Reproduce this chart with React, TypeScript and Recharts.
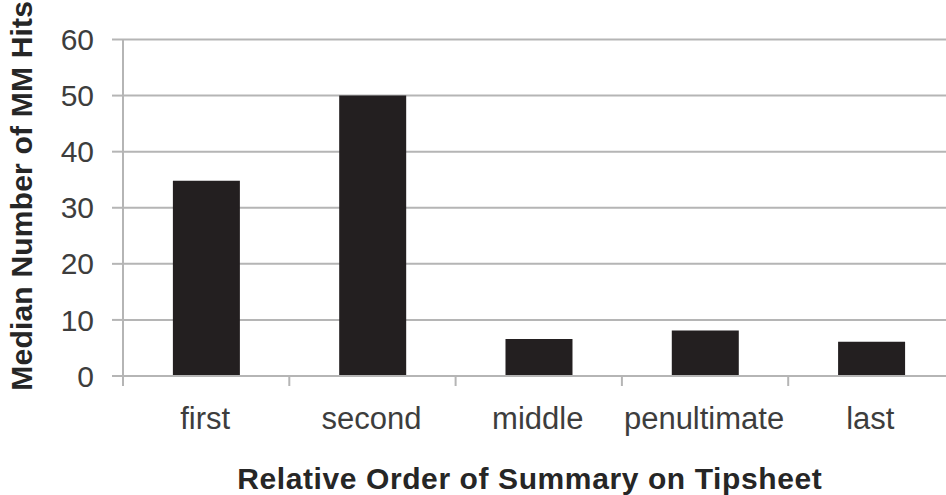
import React from 'react';
import { BarChart, Bar, XAxis, YAxis, CartesianGrid } from 'recharts';

const categories = ['first', 'second', 'middle', 'penultimate', 'last'];
const medianHits = [34.8, 50, 6.6, 8.1, 6.1];
const yTicks = [0, 10, 20, 30, 40, 50, 60];
const xTitle = 'Relative Order of Summary on Tipsheet';
const yTitle = 'Median Number of MM Hits';

const data = categories.map((c, i) => ({ category: c, hits: medianHits[i] }));

const FONT = '"Liberation Sans", Arial, Helvetica, sans-serif';
const AXIS_GRAY = '#b5b5b5';

function CategoryTick(props: any) {
  const { x, y, payload, index } = props;
  const half = payload && typeof payload.offset === 'number' ? payload.offset : 0;
  return (
    <g>
      <line x1={x - half} x2={x - half} y1={y} y2={y + 10} stroke={AXIS_GRAY} strokeWidth={2} />
      {index === categories.length - 1 ? (
        <line x1={x + half} x2={x + half} y1={y} y2={y + 10} stroke={AXIS_GRAY} strokeWidth={2} />
      ) : null}
      <text x={x - 1} y={y + 53} textAnchor="middle" fontFamily={FONT} fontSize={31} fill="#3d3d3d">
        {payload.value}
      </text>
    </g>
  );
}

function YTitle(props: any) {
  const vb = props.viewBox || { x: 0, y: 0, width: 0, height: 0 };
  const cx = vb.x + 32;
  const cy = vb.y + vb.height / 2 - 12;
  return (
    <text
      x={cx}
      y={cy}
      transform={`rotate(-90, ${cx}, ${cy})`}
      textAnchor="middle"
      fontFamily={FONT}
      fontWeight="bold"
      fontSize={30}
      letterSpacing={0.2}
      fill="#262626"
    >
      {yTitle}
    </text>
  );
}

function XTitle(props: any) {
  const vb = props.viewBox || { x: 0, y: 0, width: 0, height: 0 };
  return (
    <text
      x={vb.x + vb.width / 2 - 9}
      y={vb.y + 113}
      textAnchor="middle"
      fontFamily={FONT}
      fontWeight="bold"
      fontSize={30}
      letterSpacing={0.6}
      fill="#262626"
    >
      {xTitle}
    </text>
  );
}

export default function App() {
  return (
    <div
      style={{
        position: 'absolute',
        left: 0,
        top: 0,
        width: 946,
        height: 495,
        overflow: 'hidden',
        background: '#ffffff',
      }}
    >
      <BarChart
        width={980}
        height={495}
        data={data}
        margin={{ top: 39.5, right: 25.5, bottom: 0, left: 0 }}
        barCategoryGap="30%"
      >
        <CartesianGrid vertical={false} stroke={AXIS_GRAY} strokeWidth={2} />
        <XAxis
          dataKey="category"
          height={119}
          interval={0}
          tickSize={0}
          tickMargin={0}
          tickLine={false}
          axisLine={{ stroke: AXIS_GRAY, strokeWidth: 2 }}
          tick={<CategoryTick />}
          label={{ content: <XTitle /> }}
        />
        <YAxis
          width={123}
          domain={[0, 60]}
          ticks={yTicks}
          interval={0}
          tickSize={11}
          tickMargin={18}
          tickLine={{ stroke: AXIS_GRAY, strokeWidth: 2 }}
          axisLine={{ stroke: AXIS_GRAY, strokeWidth: 2 }}
          tick={{ fontFamily: FONT, fontSize: 30, fill: '#3d3d3d' }}
          label={{ content: <YTitle /> }}
        />
        <Bar dataKey="hits" fill="#231f20" isAnimationActive={false} />
      </BarChart>
    </div>
  );
}
